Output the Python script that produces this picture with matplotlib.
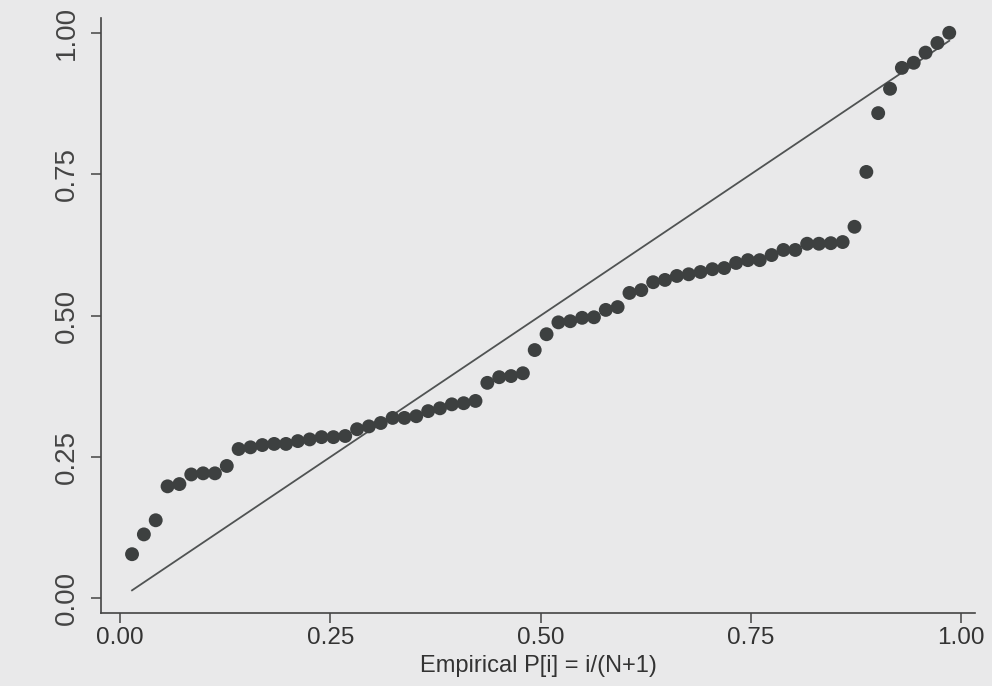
import numpy as np
import matplotlib.pyplot as plt

# Sorted normal probabilities, plotted against i/(N+1)
normal_p = [
    0.078, 0.113, 0.138, 0.198, 0.202, 0.219, 0.221, 0.221, 0.234, 0.264,
    0.267, 0.271, 0.273, 0.273, 0.278, 0.281, 0.285, 0.285, 0.287, 0.299,
    0.304, 0.310, 0.319, 0.319, 0.322, 0.331, 0.336, 0.343, 0.345, 0.349,
    0.381, 0.391, 0.393, 0.398, 0.439, 0.467, 0.488, 0.490, 0.496, 0.497,
    0.510, 0.515, 0.540, 0.545, 0.559, 0.563, 0.570, 0.573, 0.577, 0.582,
    0.584, 0.593, 0.598, 0.598, 0.607, 0.616, 0.616, 0.627, 0.627, 0.628,
    0.630, 0.657, 0.754, 0.858, 0.901, 0.938, 0.947, 0.965, 0.982, 1.000,
]
tick_values = [0.00, 0.25, 0.50, 0.75, 1.00]
tick_labels = ["0.00", "0.25", "0.50", "0.75", "1.00"]
x_title = "Empirical P[i] = i/(N+1)"

n = len(normal_p)
empirical_p = np.arange(1, n + 1) / (n + 1)

BG = "#e9e9ea"
INK = "#3d4040"

plt.rcParams["font.family"] = ["Liberation Sans", "DejaVu Sans"]

fig = plt.figure(figsize=(9.92, 6.86), dpi=100, facecolor=BG)
ax = fig.add_axes([0.102, 0.106, 0.881, 0.868], facecolor=BG)

# reference line y = x
ax.plot(empirical_p, empirical_p, color="#505353", linewidth=1.3, zorder=2)
ax.scatter(empirical_p, normal_p, s=100, color=INK, edgecolors="none", zorder=3)

ax.set_xlim(-0.0226, 1.0167)
ax.set_ylim(-0.0265, 1.0265)

ax.set_xticks(tick_values)
ax.set_xticklabels(tick_labels, fontsize=17.5, color="#333")
ax.set_yticks(tick_values)
ax.set_yticklabels(tick_labels, fontsize=20, color="#444", rotation=90, va="center")
ax.set_xlabel(x_title, fontsize=17, color="#333", labelpad=4)

ax.tick_params(axis="x", direction="out", length=7, width=1.1, color="#444", pad=3)
ax.tick_params(axis="y", direction="out", length=7, width=1.1, color="#444", pad=8)

for side in ["top", "right"]:
    ax.spines[side].set_visible(False)
for side in ["left", "bottom"]:
    ax.spines[side].set_color("#444")
    ax.spines[side].set_linewidth(1.2)

fig.savefig("out.png", dpi=100, facecolor=BG)
